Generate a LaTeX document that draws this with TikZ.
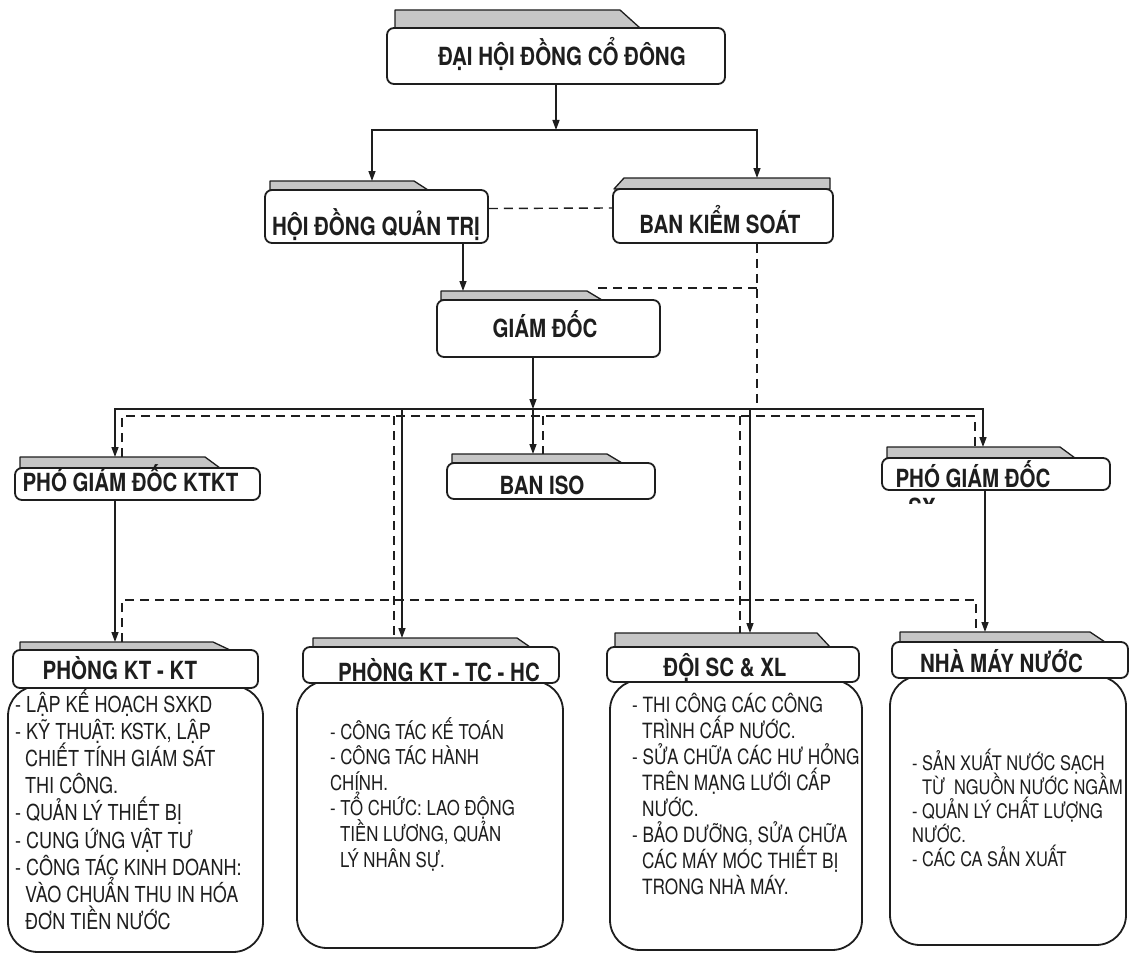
\documentclass[tikz,border=0pt]{standalone}
\usepackage{fontspec}
\setmainfont{TeX Gyre Heros}[FakeStretch=0.82]
\usetikzlibrary{arrows.meta}
\definecolor{ink}{HTML}{1E1E1E}
\definecolor{tabgray}{HTML}{C6C6C6}
\newcommand\myind{\hspace*{10pt}}
\newcommand\headfont{\fontsize{25pt}{30pt}\selectfont\bfseries}
\begin{document}
\begin{tikzpicture}[x=1pt,y=-1pt,
  box/.style={draw=ink, line width=1.8pt, rounded corners=7pt, fill=white, inner sep=0pt},
  bodybox/.style={draw=ink, line width=1.8pt, rounded corners=30pt, fill=white, inner sep=0pt},
  tabst/.style={draw=ink, line width=1.3pt, fill=tabgray, line join=round},
  head/.style={font=\headfont, text=ink, inner sep=0pt, anchor=base},
  conn/.style={draw=ink, line width=1.4pt},
  arr/.style={conn, -{Triangle[length=10pt,width=7pt]}},
  dline/.style={draw=ink, line width=1.4pt, dash pattern=on 9pt off 6pt},
]
\useasboundingbox[fill=white] (0,0) rectangle (1132,955);

% ---------- top level
\draw[tabst] (395,28) -- (395,10) -- (620,10) -- (640,28) -- cycle;
\node[box, minimum width=338pt, minimum height=56pt] (dhd) at (556,56) {};
\node[head] (dhdT) at (562,66) {ĐẠI HỘI ĐỒNG CỔ ĐÔNG};

\draw[tabst] (270,190) -- (270,181) -- (414,181) -- (428,190) -- cycle;
\node[box, minimum width=223pt, minimum height=53pt] (hdqt) at (376.5,216.5) {};
\node[head] (hdqtT) at (376,235) {HỘI ĐỒNG QUẢN TRỊ};

\draw[tabst] (614,189) -- (624,178) -- (830,178) -- (830,189) -- cycle;
\node[box, minimum width=220pt, minimum height=54pt] (bks) at (723,216) {};
\node[head] (bksT) at (720,233) {BAN KIỂM SOÁT};

\draw[tabst] (441,300) -- (441,291) -- (587,291) -- (602,300) -- cycle;
\node[box, minimum width=223pt, minimum height=57pt] (gd) at (548.5,328.5) {};
\node[head] (gdT) at (545,337) {GIÁM ĐỐC};

% ---------- second level
\draw[tabst] (20,468) -- (20,457) -- (205,457) -- (220,468) -- cycle;
\node[box, minimum width=245pt, minimum height=32pt] (pkt) at (137.5,484) {};
\node[head] (pktT) at (130.5,491) {PHÓ GIÁM ĐỐC KTKT};

\draw[tabst] (452,463) -- (452,454) -- (607,454) -- (622,463) -- cycle;
\node[box, minimum width=208pt, minimum height=36pt] (iso) at (551,481) {};
\node[head] (isoT) at (542,494) {BAN ISO};

\draw[tabst] (887,458) -- (887,447) -- (1060,447) -- (1075,458) -- cycle;
\node[box, minimum width=228pt, minimum height=32pt] (psx) at (996,474) {};
\node[head] (psxT) at (973,487) {PHÓ GIÁM ĐỐC};
\begin{scope}
  \clip (895,496) rectangle (950,503);
  \node[head] (sxT) at (922,516) {SX};
\end{scope}

% ---------- bottom level: bodies
\node[bodybox, minimum width=255pt, minimum height=266pt] (ktB) at (135.5,819) {};
\node[bodybox, minimum width=266pt, minimum height=267pt] (tcB) at (430,814.5) {};
\node[bodybox, minimum width=252pt, minimum height=270pt] (scB) at (736,815) {};
\node[bodybox, minimum width=236pt, minimum height=269pt] (nmB) at (1008,810.5) {};

% headers
\draw[tabst] (20,650) -- (20,642) -- (213,642) -- (230,650) -- cycle;
\node[box, minimum width=245pt, minimum height=38pt] (kt) at (135.5,669) {};
\node[head] (ktT) at (120,679) {PHÒNG KT - KT};

\draw[tabst] (313,647) -- (313,638) -- (517,638) -- (530,647) -- cycle;
\node[box, minimum width=256pt, minimum height=36pt] (tc) at (431,665) {};
\node[head] (tcT) at (439,681) {PHÒNG KT - TC - HC};

\draw[tabst] (615,647) -- (615,633) -- (817,633) -- (830,647) -- cycle;
\node[box, minimum width=252pt, minimum height=35pt] (sc) at (733,664.5) {};
\node[head] (scT) at (725,676) {ĐỘI SC \& XL};

\draw[tabst] (900,642) -- (900,632) -- (1090,632) -- (1105,642) -- cycle;
\node[box, minimum width=236pt, minimum height=36pt] (nm) at (1010,660) {};
\node[head] (nmT) at (1001.5,672) {NHÀ MÁY NƯỚC};

% body texts
\foreach \t [count=\i] in {{- LẬP KẾ HOẠCH SXKD},{- KỸ THUẬT: KSTK, LẬP},{\myind CHIẾT TÍNH GIÁM SÁT},{\myind THI CÔNG.},{- QUẢN LÝ THIẾT BỊ},{- CUNG ỨNG VẬT TƯ},{- CÔNG TÁC KINH DOANH:},{\myind VÀO CHUẨN THU IN HÓA},{\myind ĐƠN TIỀN NƯỚC}}
  \node[font=\fontsize{22pt}{26pt}\selectfont, text=ink, inner sep=0pt, anchor=base west] (kt\i) at (15,{712+27.2*(\i-1)}) {\t};

\foreach \t [count=\i] in {{- CÔNG TÁC KẾ TOÁN},{- CÔNG TÁC HÀNH},{CHÍNH.},{- TỔ CHỨC: LAO ĐỘNG},{\myind TIỀN LƯƠNG, QUẢN},{\myind LÝ NHÂN SỰ.}}
  \node[font=\fontsize{20.5pt}{24pt}\selectfont, text=ink, inner sep=0pt, anchor=base west] (tc\i) at (330,{739+25.6*(\i-1)}) {\t};

\foreach \t [count=\i] in {{- THI CÔNG CÁC CÔNG},{\myind TRÌNH CẤP NƯỚC.},{- SỬA CHỮA CÁC HƯ HỎNG},{\myind TRÊN MẠNG LƯỚI CẤP},{\myind NƯỚC.},{- BẢO DƯỠNG, SỬA CHỮA},{\myind CÁC MÁY MÓC THIẾT BỊ},{\myind TRONG NHÀ MÁY.}}
  \node[font=\fontsize{21pt}{25pt}\selectfont, text=ink, inner sep=0pt, anchor=base west] (sc\i) at (632,{712+26*(\i-1)}) {\t};

\foreach \t [count=\i] in {{- SẢN XUẤT NƯỚC SẠCH},{\myind TỪ\ \ NGUỒN NƯỚC NGẦM},{- QUẢN LÝ CHẤT LƯỢNG},{NƯỚC.},{- CÁC CA SẢN XUẤT}}
  \node[font=\fontsize{20pt}{24pt}\selectfont, text=ink, inner sep=0pt, anchor=base west] (nm\i) at (912,{770+24*(\i-1)}) {\t};

% ---------- coordinates
\coordinate (j1) at (556,130);
\coordinate (hdqtA) at (372,181);
\coordinate (bksA) at (757,178);
\coordinate (gdA) at (463,291);
\coordinate (j2) at (533,409);
\coordinate (isoA) at (533,454);
\coordinate (pktA) at (115,457);
\coordinate (tcA) at (402,638);
\coordinate (scA) at (750,633);
\coordinate (psxA) at (983,447);
\coordinate (ktA) at (115,642);
\coordinate (nmA) at (985,632);

\coordinate (d2) at (757,409);
\coordinate (d3) at (757,288);
\coordinate (gdB) at (596,288);
\coordinate (h1) at (122,416);
\coordinate (h2) at (975,416);
\coordinate (pktD) at (122,457);
\coordinate (psxD) at (975,447);
\coordinate (tcD) at (394,638);
\coordinate (isoD) at (543,454);
\coordinate (scD) at (740,633);
\coordinate (h3) at (122,600);
\coordinate (h4) at (976,600);
\coordinate (ktD) at (122,642);
\coordinate (nmD) at (976,632);

% ---------- solid connectors
\draw[arr] (dhd.south -| j1) -- (j1);
\draw[arr] (j1) -| (hdqtA);
\draw[arr] (j1) -| (bksA);
\draw[arr] (hdqt.south -| gdA) -- (gdA);
\draw[arr] (gd.south -| j2) -- (j2);
\draw[arr] (j2) -- (isoA);
\draw[arr] (j2) -| (pktA);
\draw[arr] (j2) -| (tcA);
\draw[arr] (j2) -| (scA);
\draw[arr] (j2) -| (psxA);
\draw[arr] (pkt.south -| ktA) -- (ktA);
\draw[arr] (psx.south -| nmA) -- (nmA);

% ---------- dashed connectors
\draw[dline] ([yshift=8pt]hdqt.east) -- ([yshift=8pt]bks.west);
\draw[dline] (bks.south -| d2) -- (d2);
\draw[dline] (d3) -- (gdB);
\draw[dline] (pktD) -- (h1) -- (h2) -- (psxD);
\draw[dline] (h1 -| tcD) -- (tcD);
\draw[dline] (h1 -| isoD) -- (isoD);
\draw[dline] (h1 -| scD) -- (scD);
\draw[dline] (ktD) -- (h3) -- (h4) -- (nmD);
\end{tikzpicture}
\end{document}
